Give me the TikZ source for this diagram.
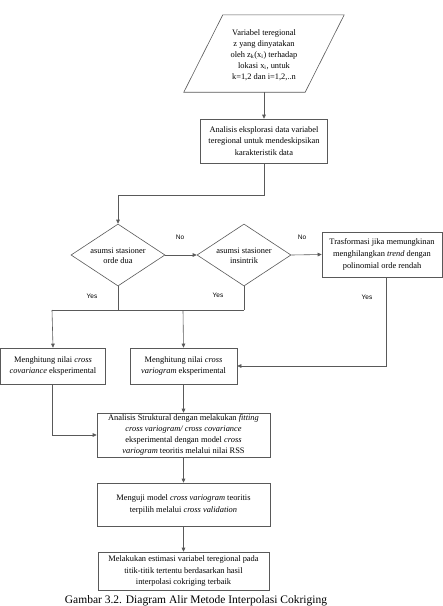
\documentclass[tikz,border=0pt]{standalone}
\usepackage{fontspec}
\setmainfont{Liberation Serif}
\newfontfamily\lblfont{Liberation Sans}
\usetikzlibrary{shapes.geometric,arrows.meta,calc}
\begin{document}
\begin{tikzpicture}[x=1pt,y=-1pt,
  ln/.style={draw=black!65, line width=0.6pt},
  arr/.style={ln, -{Triangle[length=4pt,width=3.6pt]}},
  boxn/.style={draw=black!65, line width=0.6pt, rectangle, inner sep=0pt, align=center,
     font=\fontsize{8.4}{11.8}\selectfont},
  dia/.style={draw=black!65, line width=0.6pt, diamond, inner sep=0pt, minimum width=94pt, minimum height=62pt},
  txt/.style={inner sep=0pt, align=center, font=\fontsize{8.4}{10.5}\selectfont},
  yn/.style={inner sep=0pt, font=\lblfont\fontsize{6.5}{8}\selectfont}]
\useasboundingbox (0,0) rectangle (443,606);
% input parallelogram
\node[inner sep=0pt, minimum width=121pt, minimum height=77pt] (in) at (264,53.5) {};
\draw[ln] ($(in.south west)+(-19.5,0)$) -- ($(in.south east)+(-19.5,0)$) -- ($(in.north east)+(19.5,0)$) -- ($(in.north west)+(19.5,0)$) -- cycle;
\node[txt, font=\fontsize{8.4}{11}\selectfont] (intxt) at (264,55) {Variabel teregional\\ z yang dinyatakan\\ oleh z\textsubscript{k}(x\textsubscript{i}) terhadap\\ lokasi x\textsubscript{i}, untuk\\ k=1,2 dan i=1,2,..n};
% exploration box
\node[boxn, minimum width=127pt, minimum height=44pt] (b1) at (264,141) {Analisis eksplorasi data variabel\\ teregional untuk mendeskipsikan\\ karakteristik data};
% diamonds
\node[dia] (d1) at (118,255) {};
\node[txt] (d1t) at (118,256) {asumsi stasioner\\ orde dua};
\node[dia] (d2) at (244,255) {};
\node[txt] (d2t) at (244,256) {asumsi stasioner\\ insintrik};
% transformation box
\node[boxn, minimum width=120pt, minimum height=45pt] (b3) at (382,254.5) {Trasformasi jika memungkinan\\ menghilangkan \emph{trend} dengan\\ polinomial orde rendah};
% experimental boxes
\node[boxn, minimum width=105pt, minimum height=36pt] (cov) at (53,366) {Menghitung nilai \emph{cross}\\ \emph{covariance} eksperimental};
\node[boxn, minimum width=107pt, minimum height=36pt] (var) at (183.5,366) {Menghitung nilai \emph{cross}\\ \emph{variogram} eksperimental};
% structural analysis
\node[boxn, minimum width=173pt, minimum height=44pt, font=\fontsize{8.4}{11}\selectfont] (an) at (183.5,435) {Analisis Struktural dengan melakukan \emph{fitting}\\ \emph{cross variogram/ cross covariance}\\ eksperimental dengan model \emph{cross}\\ \emph{variogram} teoritis melalui nilai RSS};
\node[boxn, minimum width=173pt, minimum height=43pt] (m) at (183.5,504.5) {Menguji model \emph{cross variogram} teoritis\\ terpilih melalui \emph{cross validation}};
\node[boxn, minimum width=171pt, minimum height=38pt] (last) at (183.5,571) {Melakukan estimasi variabel teregional pada\\ titik-titik tertentu berdasarkan hasil\\ interpolasi cokriging terbaik};
% caption
\node[inner sep=0pt, anchor=base, font=\fontsize{11.5}{13}\selectfont] (cap) at (196,603) {Gambar 3.2. Diagram Alir Metode Interpolasi Cokriging};
% junction coordinates
\coordinate (j1) at (118,195);
\coordinate (jl) at (52,310);
\coordinate (jm) at (183,310);
\coordinate (jr) at (244,310);
\coordinate (jd1) at (118,310);
\coordinate (jt) at (386,366);
\coordinate (jc) at (52,435);
% connectors
\draw[arr] (in.south) -- (b1.north);
\draw[arr] (b1.south) |- (j1) -- (d1.north);
\draw[arr] (d1.east) -- (d2.west);
\draw[arr] (d2.east) -- (b3.west);
\draw[ln] (d1.south) -- (jd1);
\draw[ln] (d2.south) -- (jr);
\draw[ln] (jl) -- (jr);
\draw[arr] (jl) -- (cov.north);
\draw[arr] (jm) -- (var.north);
\draw[arr] (b3.south -| jt) -- (jt) -- (var.east);
\draw[arr] (cov.south -| jc) -- (jc) -- (an.west);
\draw[arr] (var.south) -- (an.north);
\draw[arr] (an.south) -- (m.north);
\draw[arr] (m.south) -- (last.north);
% labels
\node[yn] (no1) at (180,237) {No};
\node[yn] (no2) at (302,237) {No};
\node[yn] (y1) at (92,296) {Yes};
\node[yn] (y2) at (218,295) {Yes};
\node[yn] (y3) at (367,297) {Yes};
\end{tikzpicture}
\end{document}
